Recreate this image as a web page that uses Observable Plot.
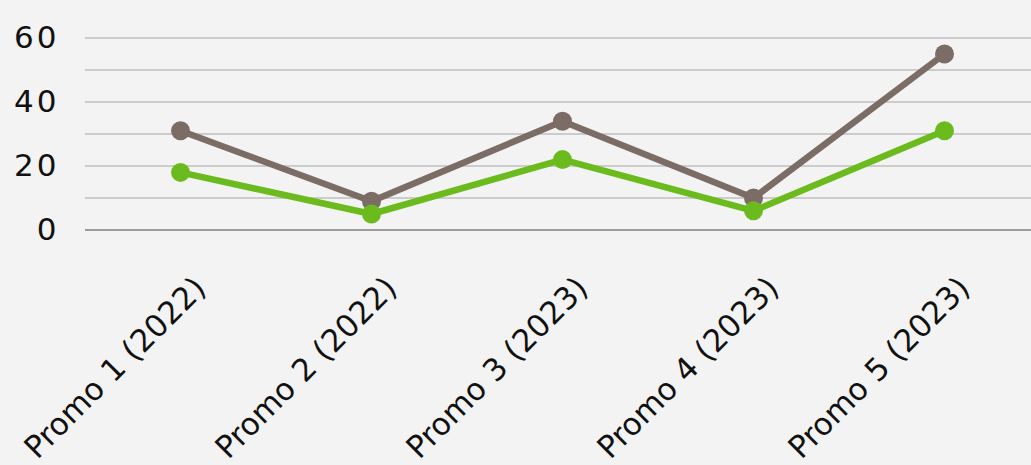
<!DOCTYPE html>
<html>
<head>
<meta charset="utf-8">
<script src="https://cdn.jsdelivr.net/npm/d3@7"></script>
<script src="https://cdn.jsdelivr.net/npm/@observablehq/plot@0.6"></script>
<style>
  html, body { margin: 0; padding: 0; background: #f3f3f3; }
  #chart svg { display: block; }
</style>
</head>
<body>
<div id="chart"></div>
<script>
const categories = ["Promo 1 (2022)", "Promo 2 (2022)", "Promo 3 (2023)", "Promo 4 (2023)", "Promo 5 (2023)"];
const seriesBrown = [31, 9, 34, 10, 55];
const seriesGreen = [18, 5, 22, 6, 31];
const yTicks = [0, 20, 40, 60];
const gridValues = [10, 20, 30, 40, 50, 60];

const brownData = categories.map((c, i) => ({category: c, value: seriesBrown[i]}));
const greenData = categories.map((c, i) => ({category: c, value: seriesGreen[i]}));

const FONT = "'DejaVu Sans', sans-serif";

const plot = Plot.plot({
  width: 1031,
  height: 465,
  marginLeft: 85,
  marginRight: 0,
  marginTop: 37.5,
  marginBottom: 235.5,
  style: {background: "#f3f3f3", fontFamily: FONT, color: "#111"},
  x: {type: "point", domain: categories, range: [180, 944], padding: 0, axis: null},
  y: {domain: [0, 60], axis: null},
  marks: [
    Plot.ruleY(gridValues, {stroke: "#bfbfbf", strokeWidth: 1.6}),
    Plot.ruleY([0], {stroke: "#7f7f7f", strokeWidth: 1.6}),
    Plot.axisY(yTicks, {tickSize: 0, tickPadding: 0, dx: -26, fontSize: 31, fill: "#111", label: null, textAnchor: "end", className: "yax"}),
    Plot.text(categories, {x: d => d, y: () => 0, text: d => d, rotate: -45, textAnchor: "end", lineAnchor: "middle", dx: 20, dy: 53, fontSize: 31, fill: "#111"}),
    Plot.line(brownData, {x: "category", y: "value", stroke: "#7b6c65", strokeWidth: 6.5, strokeLinejoin: "round"}),
    Plot.dot(brownData, {x: "category", y: "value", r: 9.5, fill: "#7b6c65"}),
    Plot.line(greenData, {x: "category", y: "value", stroke: "#6cbb1e", strokeWidth: 6.5, strokeLinejoin: "round"}),
    Plot.dot(greenData, {x: "category", y: "value", r: 9.5, fill: "#6cbb1e"})
  ]
});
d3.select(plot).selectAll(".yax text").attr("letter-spacing", "3");
document.getElementById("chart").appendChild(plot);
</script>
</body>
</html>
